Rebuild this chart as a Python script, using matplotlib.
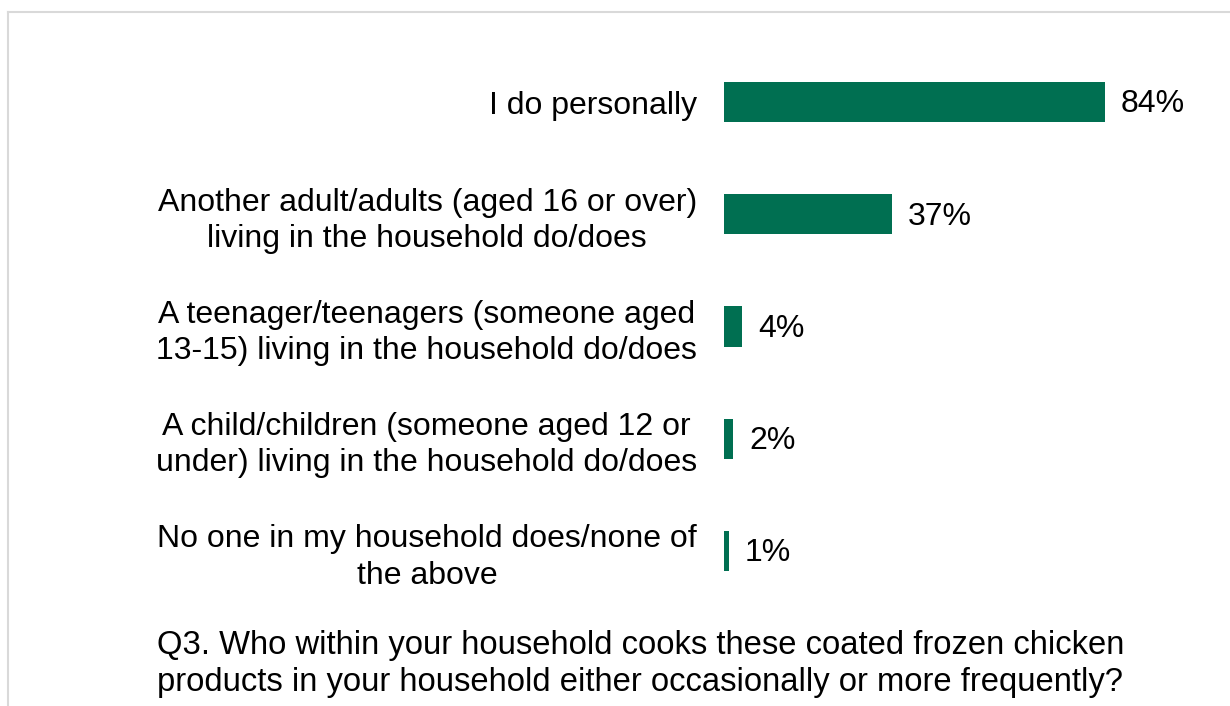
import matplotlib.pyplot as plt
from matplotlib.lines import Line2D

plt.rcParams['font.family'] = ['Liberation Sans', 'DejaVu Sans']

categories = [
    'I do personally',
    'Another adult/adults (aged 16 or over)\nliving in the household do/does',
    'A teenager/teenagers (someone aged\n13-15) living in the household do/does',
    'A child/children (someone aged 12 or\nunder) living in the household do/does',
    'No one in my household does/none of\nthe above',
]
values = [84, 37, 4, 2, 1]
value_labels = ['84%', '37%', '4%', '2%', '1%']
question = ('Q3. Who within your household cooks these coated frozen chicken\n'
            'products in your household either occasionally or more frequently?')

W, H = 1230, 706
fig = plt.figure(figsize=(W / 100, H / 100), dpi=100)

# light grey frame on left and top
fig.add_artist(Line2D([8 / W, 8 / W], [0, 1 - 12 / H], color='#d9d9d9', lw=1.5))
fig.add_artist(Line2D([8 / W, 1], [1 - 12 / H, 1 - 12 / H], color='#d9d9d9', lw=1.5))

# axes: x=0 at pixel 724, 4.536 px per %, rows 112 px apart
ax = fig.add_axes([724 / W, 1 - 607 / H, 453.6 / W, 561 / H])
pos = list(range(len(values)))
ax.barh(pos, values, height=0.357, color='#006F51')
ax.set_xlim(0, 100)
ax.set_ylim(len(values) - 0.5, -0.5)

for p, v, lab in zip(pos, values, value_labels):
    ax.text(v + 3.5, p + 0.02, lab, va='center', ha='left', fontsize=23)

ax.set_yticks(pos)
ax.set_yticklabels(categories, fontsize=23, linespacing=1.27)
for t in ax.get_yticklabels():
    t.set_multialignment('center')
    t.set_y(t.get_position()[1])
ax.tick_params(axis='y', length=0, pad=19.5)
ax.tick_params(axis='x', bottom=False, labelbottom=False)
for s in ax.spines.values():
    s.set_visible(False)

fig.text(157 / W, 1 - 664 / H, question, ha='left', va='center',
         fontsize=23.6, linespacing=1.27)

plt.savefig('out.png', dpi=100)
